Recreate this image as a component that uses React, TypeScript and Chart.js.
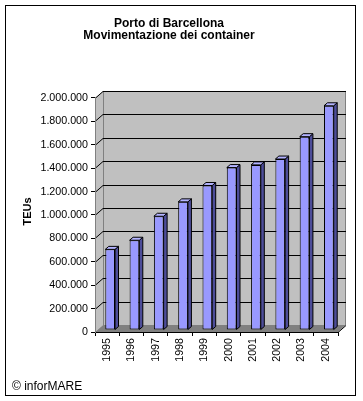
import React, { useEffect, useRef } from "react";
import { Chart, registerables } from "chart.js";

Chart.register(...registerables);

const years = ["1995", "1996", "1997", "1998", "1999", "2000", "2001", "2002", "2003", "2004"];
const teus = [689000, 767000, 972000, 1095000, 1235000, 1388000, 1411000, 1461000, 1652000, 1916000];
const yMin = 0;
const yMax = 2000000;
const yStep = 200000;
const titleLines = ["Porto di Barcellona", "Movimentazione dei container"];
const yAxisTitle = "TEUs";
const footerText = "© inforMARE";

const FONT = "Arial, 'Liberation Sans', sans-serif";

const WALL_DX = 8;
const WALL_DY = 7;
const BAR_DX = 3.5;
const BAR_DY = 3;
const SHIFT_X = 3;
const SHIFT_Y = -2;

function fmt(v: number): string {
  return Math.round(v).toString().replace(/\B(?=(\d{3})+(?!\d))/g, ".");
}

const excel3d = {
  id: "excel3d",
  beforeDraw(chart: any) {
    const { ctx, chartArea, scales } = chart;
    const L = chartArea.left, R = chartArea.right, T = chartArea.top, B = chartArea.bottom;
    const ys = scales.y;
    ctx.save();
    ctx.fillStyle = "#c0c0c0";
    ctx.beginPath();
    ctx.moveTo(L, T);
    ctx.lineTo(L + WALL_DX, T - WALL_DY);
    ctx.lineTo(L + WALL_DX, B - WALL_DY);
    ctx.lineTo(L, B);
    ctx.closePath();
    ctx.fill();
    ctx.fillRect(L + WALL_DX, T - WALL_DY, R - L, B - T);
    ctx.fillStyle = "#808080";
    ctx.beginPath();
    ctx.moveTo(L, B);
    ctx.lineTo(L + WALL_DX, B - WALL_DY);
    ctx.lineTo(R + WALL_DX, B - WALL_DY);
    ctx.lineTo(R, B);
    ctx.closePath();
    ctx.fill();
    ctx.strokeStyle = "#808080";
    ctx.lineWidth = 1;
    ctx.beginPath();
    ctx.moveTo(L + WALL_DX + 0.5, T - WALL_DY);
    ctx.lineTo(L + WALL_DX + 0.5, B - WALL_DY);
    ctx.moveTo(R + WALL_DX - 0.5, T - WALL_DY);
    ctx.lineTo(R + WALL_DX - 0.5, B - WALL_DY);
    ctx.stroke();
    ctx.strokeStyle = "#000";
    ys.ticks.forEach((t: any) => {
      if (t.value === 0) return;
      const py = Math.round(ys.getPixelForValue(t.value)) + 0.5;
      ctx.beginPath();
      ctx.moveTo(L, py);
      ctx.lineTo(L + WALL_DX, py - WALL_DY);
      ctx.lineTo(R + WALL_DX, py - WALL_DY);
      ctx.stroke();
    });
    ctx.beginPath();
    ctx.moveTo(R, B + 0.5);
    ctx.lineTo(R + WALL_DX, B - WALL_DY + 0.5);
    ctx.stroke();
    ctx.restore();
  },
  beforeDatasetsDraw(chart: any) {
    chart.ctx.save();
    chart.ctx.translate(SHIFT_X, SHIFT_Y);
  },
  afterDatasetsDraw(chart: any) {
    const ctx = chart.ctx;
    const meta = chart.getDatasetMeta(0);
    ctx.lineWidth = 1;
    ctx.strokeStyle = "#000";
    meta.data.forEach((bar: any) => {
      const { x, y, base, width } = bar.getProps(["x", "y", "base", "width"], true);
      const x1 = x - width / 2;
      const x2 = x + width / 2;
      ctx.fillStyle = "#4d4d99";
      ctx.beginPath();
      ctx.moveTo(x2, y);
      ctx.lineTo(x2 + BAR_DX, y - BAR_DY);
      ctx.lineTo(x2 + BAR_DX, base - BAR_DY);
      ctx.lineTo(x2, base);
      ctx.closePath();
      ctx.fill();
      ctx.stroke();
      ctx.fillStyle = "#b3b3ff";
      ctx.beginPath();
      ctx.moveTo(x1, y);
      ctx.lineTo(x1 + BAR_DX, y - BAR_DY);
      ctx.lineTo(x2 + BAR_DX, y - BAR_DY);
      ctx.lineTo(x2, y);
      ctx.closePath();
      ctx.fill();
      ctx.stroke();
    });
    ctx.restore();
  },
  afterDraw(chart: any) {
    const ctx = chart.ctx;
    const { chartArea } = chart;
    ctx.save();
    ctx.strokeStyle = "#000";
    ctx.lineWidth = 1;
    ctx.strokeRect(5.5, 5.5, 350, 390);
    ctx.fillStyle = "#000";
    ctx.font = `bold 11px ${FONT}`;
    ctx.textAlign = "center";
    ctx.textBaseline = "middle";
    ctx.translate(28, (chartArea.top - WALL_DY + chartArea.bottom) / 2);
    ctx.rotate(-Math.PI / 2);
    ctx.fillText(yAxisTitle, 0, 0);
    ctx.restore();
    ctx.save();
    ctx.fillStyle = "#000";
    ctx.font = `12px ${FONT}`;
    ctx.textAlign = "left";
    ctx.textBaseline = "middle";
    ctx.fillText(footerText, 12, 387);
    ctx.restore();
  },
};

export default function App() {
  const ref = useRef<HTMLCanvasElement | null>(null);
  useEffect(() => {
    if (!ref.current) return;
    const chart = new Chart(ref.current, {
      type: "bar",
      data: {
        labels: years,
        datasets: [
          {
            data: teus,
            backgroundColor: "#9999ff",
            borderColor: "#000",
            borderWidth: 1,
            borderSkipped: false,
            categoryPercentage: 1,
            barPercentage: 0.4,
          },
        ],
      },
      options: {
        responsive: false,
        animation: false,
        devicePixelRatio: 1,
        layout: { padding: { left: 0, right: 25, top: 0, bottom: 0 } },
        plugins: {
          legend: { display: false },
          tooltip: { enabled: false },
          title: {
            display: true,
            text: titleLines,
            color: "#000",
            font: { family: FONT, size: 12, weight: "bold", lineHeight: 1.04 },
            padding: { top: 17, bottom: 56 },
          },
        },
        scales: {
          x: {
            grid: { offset: true, drawOnChartArea: false, drawTicks: true, tickLength: 4, color: "#000" },
            border: { color: "#000" },
            ticks: {
              minRotation: 90,
              maxRotation: 90,
              autoSkip: false,
              padding: 2,
              color: "#000",
              font: { family: FONT, size: 10.7 },
            },
            afterFit: (s: any) => {
              s.height = 69;
            },
          },
          y: {
            min: yMin,
            max: yMax,
            grid: { drawOnChartArea: false, drawTicks: true, tickLength: 4, color: "#000" },
            border: { color: "#808080" },
            ticks: {
              stepSize: yStep,
              padding: 3,
              color: "#000",
              font: { family: FONT, size: 10.7 },
              callback: (v: any) => fmt(Number(v)),
            },
            afterFit: (s: any) => {
              s.width = 95;
            },
          },
        },
      },
      plugins: [excel3d],
    } as any);
    return () => chart.destroy();
  }, []);
  return (
    <canvas
      ref={ref}
      width={363}
      height={401}
      style={{ position: "fixed", left: 0, top: 0, width: 363, height: 401 }}
    />
  );
}
